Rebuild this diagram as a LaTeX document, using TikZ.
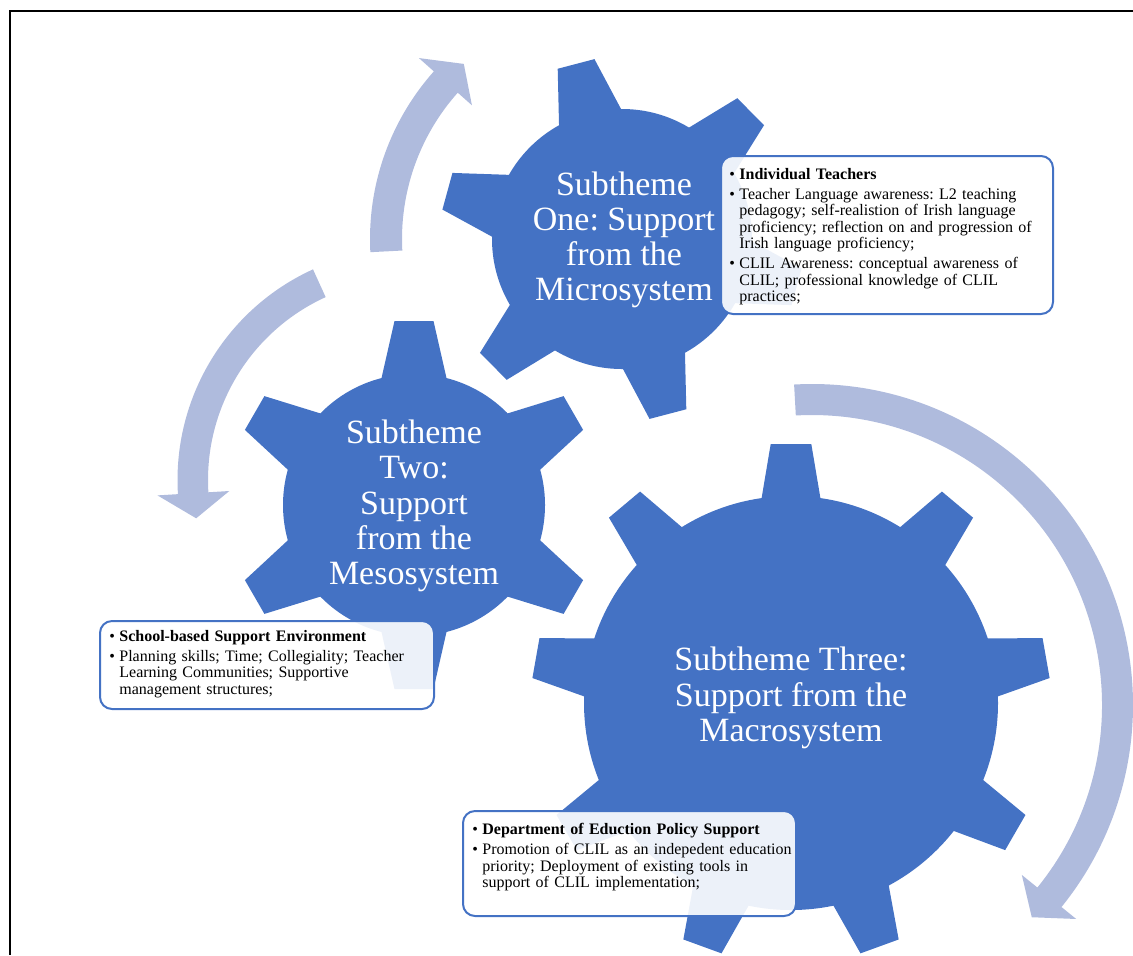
\documentclass[tikz,border=0pt]{standalone}
\usepackage{fontspec}
\setmainfont{Liberation Serif}
\definecolor{gearblue}{RGB}{68,114,196}
\definecolor{arrowblue}{RGB}{175,187,221}

% one bullet point with a hanging indent
\newcommand{\bitem}[1]{\noindent\hangindent=5pt\hangafter=1\makebox[5pt][l]{\textbullet}#1\par}
\newcommand{\itemgap}{\vspace{1.8pt}}

% cog: centre x, centre y, root radius, tip radius, tip half width,
% base half width (at root-8), number of teeth, angle of first tooth
\newcommand{\cog}[8]{%
  \begin{scope}[shift={(#1,#2)}, yscale=-1]
    \fill[gearblue] (0,0) circle (#3);
    \foreach \k in {1,...,#7}{
      \fill[gearblue, rotate={-(#8+360/#7*(\k-1))}]
        (#3-8,-#6) -- (#4,-#5) -- (#4,#5) -- (#3-8,#6) -- cycle;
    }
  \end{scope}}

% curved arrow: centre x, centre y, inner r, outer r, barb inner r, barb outer r,
% tail angle, head base angle, tip angle
\newcommand{\ringarrow}[9]{%
  \begin{scope}[shift={(#1,#2)}, yscale=-1]
    \fill[arrowblue] (#7:#4) arc[start angle=#7, end angle=#8, radius=#4]
      -- (#8:#6) -- (#9:{(#3+#4)/2}) -- (#8:#5) -- (#8:#3)
      arc[start angle=#8, end angle=#7, radius=#3] -- cycle;
  \end{scope}}

\begin{document}
\frenchspacing
\begin{tikzpicture}[x=0.5pt, y=-0.5pt,
  title/.style={text=white, font=\fontsize{17}{17.6}\selectfont, align=center, inner sep=0pt},
  infobox/.style={draw=gearblue, line width=1pt, fill=white, fill opacity=0.9,
    rounded corners=6pt, inner sep=0pt, anchor=north west},
  infotext/.style={anchor=north west, inner sep=0pt, text width=168pt,
    font=\fontsize{8}{8.2}\selectfont}]

\useasboundingbox (0,0) rectangle (1133,955);

% page border
\draw[line width=1pt] (1133,10.5) -- (9.5,10.5) -- (9.5,955);

% circular arrows
\ringarrow{622}{239}{220}{252}{201}{272}{183}{138.3}{132.1}
\ringarrow{409}{480}{201}{231.5}{180}{252}{114.5}{183.5}{190.2}
\ringarrow{812}{705}{290}{321}{270}{340}{93.2}{-39}{-44}

% gears
\cog{622}{239}{130}{181}{19}{33}{6}{44.7}
\cog{414}{505}{131}{184}{19.5}{33.4}{6}{90}
\cog{791}{703}{207}{259}{20.3}{30.4}{9}{90}

\coordinate (gear1) at (622,239);
\coordinate (gear2) at (414,505);
\coordinate (gear3) at (791,703);

\node[title] (t1) at (624,240) {Subtheme\\One: Support\\from the\\Microsystem};
\node[title] (t2) at (414,506) {Subtheme\\Two:\\Support\\from the\\Mesosystem};
\node[title] (t3) at (791,698) {Subtheme Three:\\Support from the\\Macrosystem};

% detail boxes
\node[infobox, minimum width=166pt, minimum height=79pt] (box1) at (720,155) {};
\node[infotext] (txt1) at (729,168) {%
  \bitem{\textbf{Individual Teachers}}\itemgap
  \bitem{Teacher Language awareness: L2 teaching\newline pedagogy; self-realistion of Irish language\newline proficiency; reflection on and progression of\newline Irish language proficiency;}\itemgap
  \bitem{CLIL Awareness: conceptual awareness of\newline CLIL; professional knowledge of CLIL\newline practices;}};

\node[infobox, minimum width=167pt, minimum height=44pt] (box2) at (99,620) {};
\node[infotext] (txt2) at (109,630) {%
  \bitem{\textbf{School-based Support Environment}}\itemgap
  \bitem{Planning skills; Time; Collegiality; Teacher\newline Learning Communities; Supportive\newline management structures;}};

\node[infobox, minimum width=166.5pt, minimum height=52.5pt] (box3) at (462,810) {};
\node[infotext] (txt3) at (472,823) {%
  \bitem{\textbf{Department of Eduction Policy Support}}\itemgap
  \bitem{Promotion of CLIL as an indepedent education\newline priority; Deployment of existing tools in\newline support of CLIL implementation;}};

\end{tikzpicture}
\end{document}
